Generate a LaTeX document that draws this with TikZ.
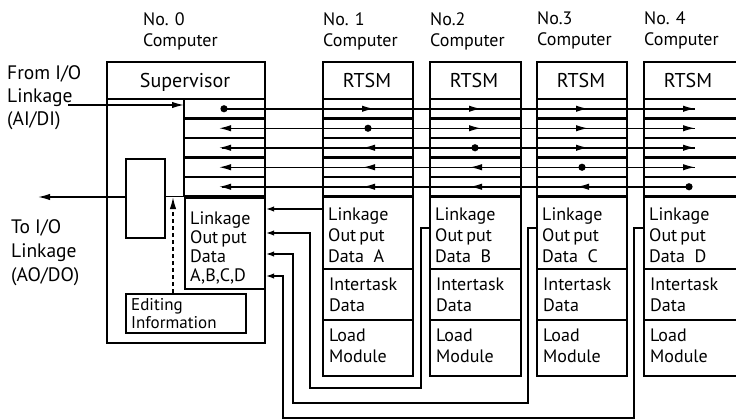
\documentclass[tikz,border=0pt]{standalone}
\usepackage{fontspec}
\setmainfont{PT Sans}
\usetikzlibrary{arrows.meta,positioning}

\tikzset{
  box/.style={draw,line width=2.2pt,inner sep=0pt,anchor=north west},
  sepline/.style={line width=2.2pt},
  sig/.style={line width=1.5pt},
  back/.style={line width=1.1pt},
  tip/.style={-{Latex[length=12pt,width=6.5pt]}},
  smalltip/.style={-{Latex[length=8pt,width=5.5pt]}},
  lbl/.style={align=left,anchor=north west,inner sep=0pt,font=\fontsize{18}{21}\selectfont},
  hdr/.style={anchor=base,inner sep=0pt,font=\fontsize{20}{22}\selectfont},
}

\begin{document}
\begin{tikzpicture}[x=1pt,y=-1pt]
\useasboundingbox (0,0) rectangle (736,420);
\clip (0,0) rectangle (736,420);

% supervisor side (No. 0)
\node[box,minimum width=158,minimum height=281] (c0) at (106,61) {};
\draw[sepline] (106,99) -- (264,99);
\node[hdr] (sup) at (185,87) {Supervisor};
\node[lbl] (n0) at (143,12) {No. 0\\Computer};
\draw[sepline] (184,99) -- (184,196.5);
\foreach \k in {1,...,5} \draw[sepline] (184,99+19.5*\k) -- (264,99+19.5*\k);
\node[box,minimum width=80,minimum height=91.5] (lod0) at (184,196.5) {};
\node[lbl,font=\fontsize{18}{19}\selectfont] (lo0) at (190,212) {Linkage\\Out\,put\\Data\\A,B,C,D};
\node[box,minimum width=39,minimum height=79] (buf) at (125,158) {};
\node[box,minimum width=120,minimum height=39] (edit) at (125,293) {};
\node[lbl,font=\fontsize{17}{18}\selectfont] (ed0) at (131,298) {Editing\\Information};

% I/O linkage
\coordinate (fromio) at (68,105);
\coordinate (toio) at (38,197);
\draw[sig,tip] (fromio) -- (fromio -| lod0.west);
\draw[sig,tip] (buf.west |- toio) -- (toio);
\draw[sig] (buf.east |- lod0.north west) -- (lod0.north west);
\coordinate (edj) at (173,197);
\draw[sig,dash pattern=on 4pt off 3pt,tip] (edit.north -| edj) -- (edj);
\node[lbl,font=\fontsize{19.5}{23}\selectfont] (fio) at (7,65) {From I/O\\Linkage\\(AI/DI)};
\node[lbl,font=\fontsize{19.5}{24}\selectfont] (tio) at (11,219) {To I/O\\Linkage\\(AO/DO)};

% RTSM computers
\foreach \i/\x/\w/\nm/\d in {1/322/90/{No. 1}/A,2/429/91/{No.2}/B,3/536/90/{No.3}/C,4/643/100/{No. 4}/D} {
  \node[box,minimum width=\w,minimum height=314] (c\i) at (\x,61) {};
  \node[lbl] (n\i) at (\x+1,12) {\nm\\Computer};
  \node[hdr] (r\i) at (\x+45,87) {RTSM};
  \foreach \k in {0,...,5} \draw[sepline] (\x,99+19.5*\k) -- ++(\w,0);
  \draw[sepline] (\x,269) -- ++(\w,0);
  \draw[sepline] (\x,320) -- ++(\w,0);
  \node[lbl] (lo\i) at (\x+6,208) {Linkage\\Out\,put\\Data\ \ \d};
  \node[lbl] (it\i) at (\x+7,278) {Intertask\\Data};
  \node[lbl] (lm\i) at (\x+7,329) {Load\\Module};
}

% shared data lines
\foreach \k in {1,...,5} {
  \pgfmathsetmacro\y{89.25+19.5*\k}
  \coordinate (s\k w) at (222,\y);
  \ifnum\k=5 \coordinate (s\k e) at (691,\y); \else \coordinate (s\k e) at (695,\y); \fi
  \draw[sig] (s\k w) -- (s\k e);
}
\foreach \i/\L in {0/178,1/322,2/429,3/536,4/643}
  \foreach \k in {1,...,5} {
    \pgfmathsetmacro\y{89.25+19.5*\k}
    \pgfmathtruncatemacro\src{\k-1}
    \ifnum\i=\src \fill (\L+46,\y) circle (3.6);
    \else\ifnum\i>\src \draw[sig,tip] (\L+40,\y) -- (\L+52,\y);
    \else \draw[sig,tip] (\L+53,\y) -- (\L+41,\y);
    \fi\fi
  }

% linkage output data back to the supervisor
\draw[back,smalltip] (c1.west |- 0,209) -- (lod0.east |- 0,209);
\draw[back,smalltip] (c2.west |- 0,228) -| (421,388) -| (310,233) -- (lod0.east |- 0,233);
\draw[back,smalltip] (c3.west |- 0,228) -| (528,403) -| (293,254) -- (lod0.east |- 0,254);
\draw[back,smalltip] (c4.west |- 0,228) -| (634,418) -| (283,276) -- (lod0.east |- 0,276);
\end{tikzpicture}
\end{document}
